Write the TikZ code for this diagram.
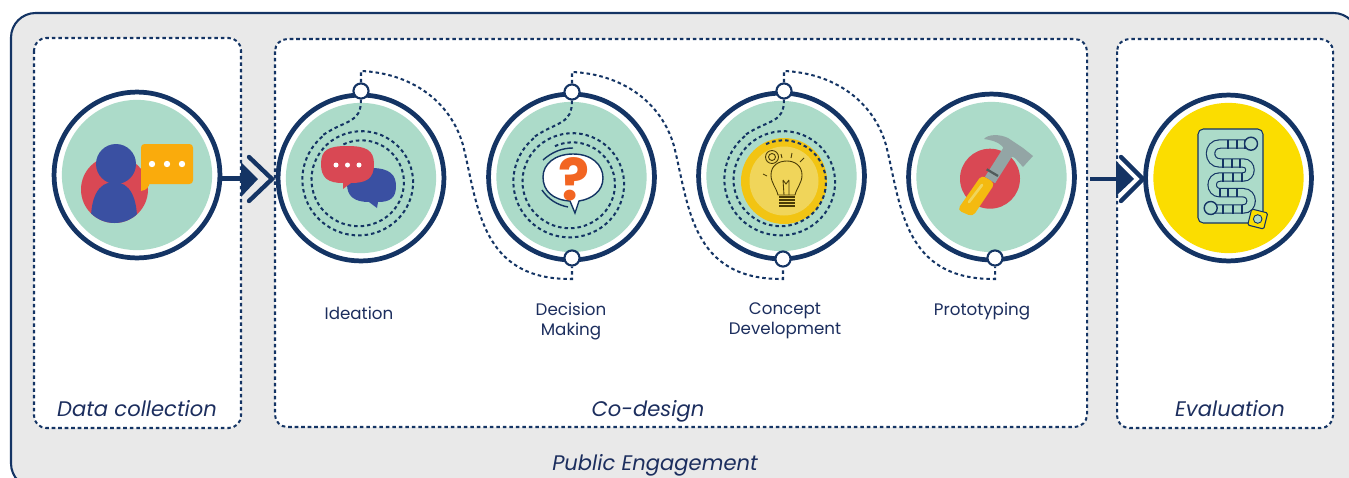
\documentclass[tikz,border=0pt]{standalone}
\usepackage{fontspec}
\setmainfont{Poppins}
\definecolor{navy}{HTML}{143464}
\definecolor{inkblue}{HTML}{1C2E5E}
\definecolor{panel}{HTML}{E9E9E9}
\definecolor{mint}{HTML}{ACDBC9}
\definecolor{redish}{HTML}{D94854}
\definecolor{bluish}{HTML}{3A50A2}
\definecolor{amber}{HTML}{FAAB0C}
\definecolor{gold}{HTML}{F2C413}
\definecolor{paleGold}{HTML}{F0D55A}
\definecolor{lemon}{HTML}{FBDD00}
\definecolor{steel}{HTML}{93A5A5}
\definecolor{orangeq}{HTML}{F26522}
\tikzset{
  ringnode/.style={circle,draw=navy,fill=white,line width=2.7pt,minimum size=94.4pt,inner sep=0pt},
  discnode/.style={circle,minimum size=85.5pt,inner sep=0pt},
  portnode/.style={circle,draw=navy,fill=white,line width=1.2pt,minimum size=8.6pt,inner sep=0pt},
  dotline/.style={draw=navy,line width=1.15pt,dash pattern=on 2pt off 1.7pt},
  framebox/.style={dotline,fill=white,rounded corners=7pt},
  stemline/.style={draw=navy,line width=2.6pt},
  barbline/.style={draw=navy,line width=2.5pt,line cap=round,line join=miter},
  steplabel/.style={text=inkblue,font=\fontsize{9.5pt}{11.4pt}\selectfont,align=center},
  stagelabel/.style={text=inkblue,font=\fontsize{12pt}{14pt}\selectfont\itshape},
  dotmark/.style={fill=white},
  bulbline/.style={draw=black!70!gold,line width=0.5pt},
}
\begin{document}
\begin{tikzpicture}[x=0.02cm,y=-0.02cm]
  \useasboundingbox (0,0) rectangle (1349,477);
  \clip (0,0) rectangle (1349,477);

  \draw[navy,fill=panel,line width=1.2pt,rounded corners=14pt] (11,13) rectangle (1358,488);

  \path[framebox] (34,38) rectangle (241,428);
  \path[framebox] (275,39) rectangle (1087,427);
  \path[framebox] (1117,39) rectangle (1333,428);

  \begin{scope}[every node/.style={ringnode}]
    \node (data)     at (137,175) {};
    \node (ideation) at (361,178) {};
    \node (decision) at (571.5,177) {};
    \node (concept)  at (781.5,176) {};
    \node (proto)    at (991.5,177) {};
    \node (evalu)    at (1228.5,178) {};
  \end{scope}

  \begin{scope}[every node/.style={discnode,fill=mint}]
    \node (datadisc)     at (data) {};
    \node (ideationdisc) at (ideation) {};
    \node (decisiondisc) at (decision) {};
    \node (conceptdisc)  at (concept) {};
    \node (protodisc)    at (proto) {};
  \end{scope}
  \node[discnode,fill=lemon] (evaludisc) at (evalu) {};

  \begin{scope}[every node/.style={portnode}]
    \node (ideationtop) at (361,91)  {};
    \node (decisiontop) at (572,92)  {};
    \node (decisionlow) at (572,258) {};
    \node (concepttop)  at (784,91)  {};
    \node (conceptlow)  at (783,259) {};
    \node (protolow)    at (995,258) {};
  \end{scope}

  \coordinate (ideationup) at (361,71);
  \coordinate (decisionup) at (572,72);
  \coordinate (conceptup)  at (784,71);
  \coordinate (decisiondown) at (572,279);
  \coordinate (conceptdown)  at (783,279);
  \coordinate (protodown)    at (995,279);
  \coordinate (gatea) at (242,178.5);
  \coordinate (gateb) at (1090,179);
  \coordinate (gatec) at (1117,179);

  \foreach \from/\to in {ideation/decision,decision/concept,concept/proto}
    \draw[dotline] (\from top.north) -- (\from up)
      .. controls +(49,2) and +(-13,-45) .. ++(102,74)
      .. controls +(15,60) and +(-92,1) .. (\to down) -- (\to low.south);

  \fill[gold] (784,181) circle (43);
  \fill[paleGold] (784,181) circle (34.5);

  \foreach \name/\cx/\cy in {ideation/360/181,decision/571/183,concept/782/181}
    \draw[dotline] (\name top.south) .. controls +(0,24) and +(24,-16) .. ({\cx-37},{\cy-46})
      -- plot[domain=128:835,samples=110] ({\cx+(59-18*(\x-128)/707)*cos(\x)},{\cy-(58-18*(\x-128)/707)*sin(\x)});

  \draw[stemline] (data.east |- gatea) -- (gatea);
  \fill[navy] (241,162) -- (258,179) -- (241,197) -- cycle;
  \draw[barbline] (249,157) -- (272,179) -- (249,201);
  \draw[stemline] (gateb) -- (gatec);
  \fill[navy] (1116,161) -- (1134,179) -- (1116,196) -- cycle;
  \draw[barbline] (1121,157) -- (1143,179) -- (1121,201);

  \fill[redish] (114.5,189.5) circle (33.5);
  \begin{scope}
    \clip (114.5,189.5) circle (33.5);
    \fill[bluish] (91,225) .. controls (90,198) and (98,182) .. (114,182)
      .. controls (130,182) and (138,198) .. (137,225) -- cycle;
  \end{scope}
  \fill[bluish] (116,164) circle (20);
  \fill[amber,rounded corners=2pt] (141,144) rectangle (193,184);
  \fill[amber] (141,170) -- (141,191) .. controls (147,190) and (149,187) .. (150,182) -- cycle;
  \foreach \dotx in {152,167,182}
    \fill[dotmark] (\dotx,164) circle (3.2);

  \fill[bluish] (371,168) .. controls (390,168) and (396,175) .. (396,186)
    .. controls (396,198) and (390,202) .. (378,202) -- (377,208) -- (369,202)
    .. controls (354,202) and (347,196) .. (347,184) .. controls (347,172) and (354,168) .. (371,168) -- cycle;
  \fill[redish] (347,146) .. controls (366,146) and (374,150) .. (374,164)
    .. controls (374,179) and (366,183) .. (351,183) -- (343,189) -- (343,183)
    .. controls (328,183) and (321,178) .. (321,164) .. controls (321,150) and (328,146) .. (347,146) -- cycle;
  \foreach \dotx in {336,347.5,359}
    \fill[dotmark] (\dotx,165) circle (2.5);

  \draw[navy,line width=0.8pt,fill=white] (573,154) .. controls (592,154) and (603,165) .. (603,178)
    .. controls (603,191) and (592,199) .. (579,201) -- (575,213) -- (570,201)
    .. controls (553,200) and (543,191) .. (543,177) .. controls (543,164) and (555,154) .. (573,154) -- cycle;
  \draw[navy,line width=0.8pt] (543,160) .. controls (552,152) and (562,148) .. (573,148);
  \draw[navy,line width=0.8pt] (542,190) .. controls (548,199) and (557,205) .. (568,207);
  \node[text=orangeq,font=\fontsize{33pt}{33pt}\selectfont\bfseries,inner sep=0pt] (askmark) at (574,179) {?};

  \draw[bulbline] (778,195) .. controls (776,187) and (771,183) .. (771,175)
    .. controls (771,165) and (779,161) .. (787,161) .. controls (795,161) and (802,166) .. (802,175)
    .. controls (802,183) and (797,187) .. (795,195) -- cycle;
  \draw[bulbline] (784,195) -- (783,180) (789,195) -- (789,180) (783,180) -- (786,184) -- (789,180);
  \foreach \stripey in {197,200,203,206}
    \draw[bulbline,line width=1.1pt] (779,\stripey) -- (795,\stripey);
  \draw[bulbline] (772,157) circle (6.5);
  \draw[bulbline] (772,157) circle (3.5);
  \draw[bulbline] (767,176) -- (763,174) (782,158) -- (781,154) (791,158) -- (792,153) (800,162) -- (804,158);

  \fill[redish] (990,178.7) circle (30);
  \draw[steel,line width=6.8pt] (990,180) -- (1009,150);
  \draw[black!45!steel,line width=1.3pt] (986.7,169.3) -- (998,176);
  \fill[steel] (984,139) .. controls (988,134) and (1000,134) .. (1008,138) -- (1023,148) -- (1033,156)
    -- (1023,167) -- (1015,158) -- (1008,155) -- (1002,146) .. controls (997,141) and (990,140) .. (984,139) -- cycle;
  \fill[gold!85!orange,rounded corners=2.5pt] (981.7,175) -- (995,183.3) -- (972.7,216.7) -- (957.3,210) -- cycle;
  \draw[paleGold,line width=1.5pt,line cap=round] (969,202) -- (982,185);

  \draw[navy,fill=mint,line width=0.6pt,rounded corners=3pt] (1198,129) rectangle (1263,223);
  \draw[navy,line width=5.4pt] (1247,144) -- (1220,144) to[out=180,in=180,looseness=1.7] (1220,163)
    -- (1243,163) to[out=0,in=0,looseness=1.7] (1243,177) -- (1220,177)
    to[out=180,in=180,looseness=1.7] (1220,192.7) -- (1243,192.7)
    to[out=0,in=0,looseness=1.7] (1243,209) -- (1211,209);
  \draw[mint,line width=4.1pt] (1247,144) -- (1220,144) to[out=180,in=180,looseness=1.7] (1220,163)
    -- (1243,163) to[out=0,in=0,looseness=1.7] (1243,177) -- (1220,177)
    to[out=180,in=180,looseness=1.7] (1220,192.7) -- (1243,192.7)
    to[out=0,in=0,looseness=1.7] (1243,209) -- (1211,209);
  \foreach \tickx/\ticky in {1228/144,1237/144,1245/144,1223/163,1232/163,1240/163,1223/177,1233/177,1242/177,
      1220/192.7,1228/192.7,1237/192.7,1223/209,1233/209,1242/209}
    \draw[navy,line width=0.7pt] (\tickx,{\ticky-4.5}) -- (\tickx,{\ticky+4.5});
  \draw[navy,fill=mint,line width=0.8pt] (1251,143.7) circle (6.5);
  \draw[navy,fill=mint,line width=0.8pt] (1210.7,208) circle (6.5);
  \node[draw=navy,fill=lemon,line width=0.6pt,rounded corners=0.8pt,rotate=-14,minimum size=9.4pt,inner sep=0pt] (die) at (1257.7,219) {};
  \draw[navy,fill=mint,line width=0.5pt] (die.center) circle (4.3);

  \begin{scope}[every node/.style={steplabel}]
    \node (ideationtext) at (359,313) {Ideation};
    \node (decisiontext) at (571,321) {Decision\\Making};
    \node (concepttext)  at (785,321) {Concept\\Development};
    \node (prototext)    at (982,311) {Prototyping};
  \end{scope}

  \begin{scope}[every node/.style={stagelabel}]
    \node (datatext)   at (137,409) {Data collection};
    \node (codetext)   at (648,411) {Co-design};
    \node (evaltext)   at (1230,409) {Evaluation};
    \node (publictext) at (655,465) {Public Engagement};
  \end{scope}

\end{tikzpicture}
\end{document}
